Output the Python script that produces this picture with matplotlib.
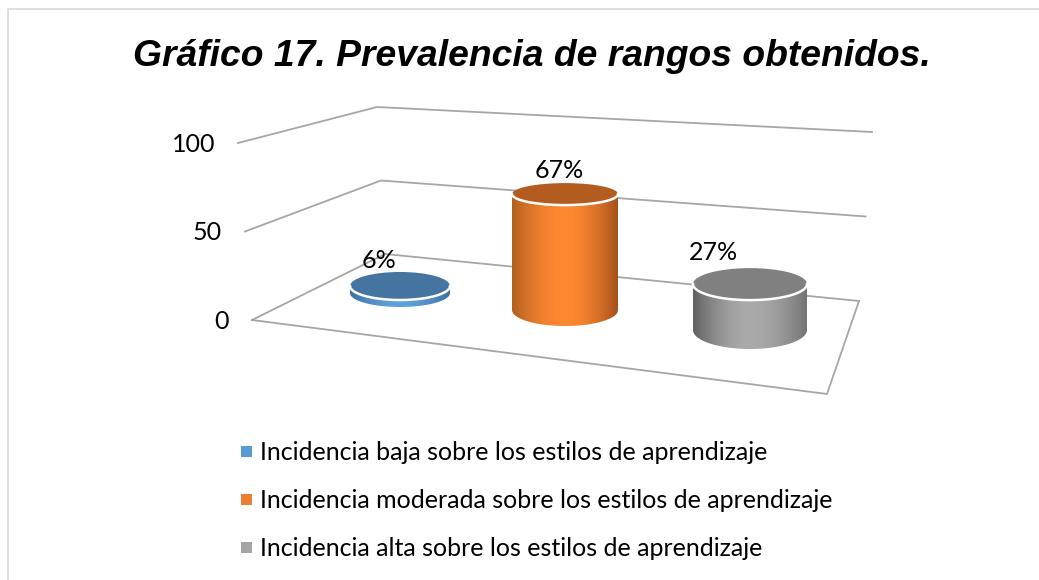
import numpy as np
import matplotlib
matplotlib.use("Agg")
import matplotlib.pyplot as plt
from matplotlib.patches import Ellipse, Rectangle, PathPatch
from matplotlib.path import Path

titulo = "Gráfico 17. Prevalencia de rangos obtenidos."
categorias = ["Incidencia baja sobre los estilos de aprendizaje",
              "Incidencia moderada sobre los estilos de aprendizaje",
              "Incidencia alta sobre los estilos de aprendizaje"]
valores = [6, 67, 27]
ejes_y = [0, 50, 100]

# colores: tapa, borde izq, centro, borde der, leyenda
colores = [("#44749F", "#3E6E9C", "#5FA0DC", "#3E6E9C", "#5B9BD5"),
           ("#B35C20", "#B0601F", "#FF8832", "#A3501A", "#ED7D31"),
           ("#808080", "#606060", "#AAAAAA", "#747474", "#A5A5A5")]

# geometria en pixeles de la perspectiva
izq0, izq100 = np.array([252, 320]), np.array([238, 143])
fondo0, fondo100 = np.array([385, 254]), np.array([377, 107])
der0, der100 = np.array([859, 301]), np.array([872, 132])
frente = np.array([827, 394])

# cx, y base, radio x, radio y tapa, radio y base, pixeles por unidad
cil = [(400, 293, 50, 14, 14, 1.17),
       (565, 310, 53, 11, 16, 1.73),
       (750, 330, 57, 16, 19, 1.70)]
etiquetas_pos = [(379, 261), (559, 171), (713, 252)]
leyenda_y = [452.5, 500.5, 548.5]

FUENTE = ["Lato", "DejaVu Sans"]


def en_altura(a, b, v):
	return a + (b - a) * v / 100


def cilindro(ax, c, v, col):
	cx, yb, rx, rt, rb, esc = c
	yt = yb - v * esc
	t = np.linspace(0, np.pi, 60)
	# cuerpo: arco de abajo mas borde de arriba
	xs = np.concatenate([cx + rx * np.cos(t), cx + rx * np.cos(t[::-1])])
	ys = np.concatenate([yb + rb * np.sin(t), yt + rt * np.sin(t[::-1])])
	clip = PathPatch(Path(np.column_stack([xs, ys])), fc="none", ec="none", zorder=3)
	ax.add_patch(clip)

	tono = matplotlib.colors.LinearSegmentedColormap.from_list(
		"c", [col[1], col[2], col[3]])
	# centro mas plano, se oscurece solo cerca de los bordes
	u = np.linspace(-1, 1, 256)
	grad = (0.5 + 0.5 * np.sign(u) * np.abs(u) ** 1.8).reshape(1, -1)
	im = ax.imshow(grad, cmap=tono, aspect="auto", zorder=3, vmin=0, vmax=1,
		extent=(cx - rx, cx + rx, yb + rb, yt - rt), interpolation="bilinear")
	im.set_clip_path(clip)

	ax.add_patch(Ellipse((cx, yt), 2 * rx, 2 * rt, fc=col[0], ec="none", zorder=4))
	# borde blanco de la tapa, solo la mitad de abajo
	ax.plot(cx + rx * np.cos(t), yt + rt * np.sin(t), color="white", lw=1.8, zorder=5)


fig = plt.figure(figsize=(10.39, 5.8), dpi=100)
ax = fig.add_axes([0, 0, 1, 1])
ax.set_xlim(0, 1039)
ax.set_ylim(580, 0)
ax.axis("off")

# marco, sin lado derecho
ax.plot([8, 8, 1039], [580, 8.5, 8.5], color="#D9D9D9", lw=1.2, zorder=1)

# rejilla
for v in ejes_y:
	p = [en_altura(izq0, izq100, v), en_altura(fondo0, fondo100, v), en_altura(der0, der100, v)]
	p = np.array(p)
	ax.plot(p[:, 0], p[:, 1], color="#A6A6A6", lw=1.3, zorder=2)
	ax.text(p[0, 0] - 23, p[0, 1] + 1.5, str(v), ha="right", va="center",
		fontsize=18, family=FUENTE, color="black")

suelo = np.array([izq0, frente, der0])
ax.plot(suelo[:, 0], suelo[:, 1], color="#A6A6A6", lw=1.3, zorder=2)

for c, v, col in zip(cil, valores, colores):
	cilindro(ax, c, v, col)

for (x, y), v in zip(etiquetas_pos, valores):
	ax.text(x, y, f"{v}%", ha="center", va="center", fontsize=18,
		family=FUENTE, color="black", zorder=6)

ax.text(531.5, 56, titulo, ha="center", va="center", fontsize=26.8, fontweight="bold",
	style="italic", family="Liberation Sans", color="black")

for y, nombre, col in zip(leyenda_y, categorias, colores):
	ax.add_patch(Rectangle((241, y - 6.5), 11, 11, fc=col[4], ec="none"))
	ax.text(260, y, nombre, ha="left", va="center", fontsize=18,
		family=FUENTE, color="black")

fig.savefig("out.png", dpi=100)
